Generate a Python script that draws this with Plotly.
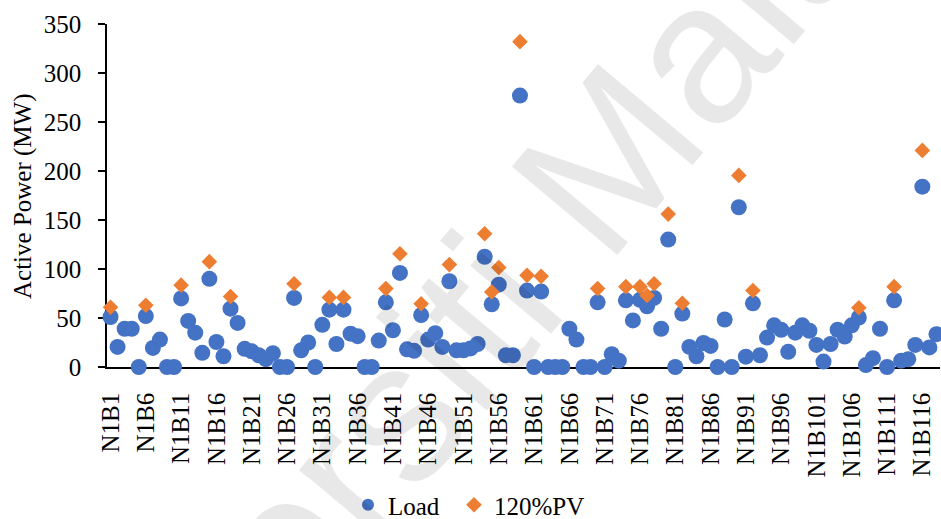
import plotly.graph_objects as go

# Bus names N1B1 ... N1B118
buses = [f"N1B{i}" for i in range(1, 119)]

# Active power of the load at each bus (MW)
load = [
    51, 20.5, 39, 39, 0, 52, 19.5, 28, 0, 0,
    70, 47, 35, 14.5, 90, 25.5, 11, 59.5, 45, 18.5,
    16, 12, 8, 14, 0, 0, 70.5, 17, 25, 0,
    43, 58.5, 23.5, 58.5, 34, 31.5, 0, 0, 27, 66,
    37.5, 96, 18, 16.5, 53, 28, 34.5, 20.5, 87.5, 17,
    17, 19, 23.5, 112.5, 64, 84, 12, 12, 277, 78,
    0, 77, 0, 0, 0, 39, 28, 0, 0, 66,
    0, 13, 6.5, 68, 47.5, 68.5, 62, 70.5, 39, 130,
    0, 54.5, 20.5, 11, 24.5, 21.5, 0, 48.5, 0, 163,
    10.5, 65, 12, 30, 42.5, 38, 15.5, 35, 42.5, 37,
    22.5, 5.5, 23.5, 38, 31, 42.5, 50.5, 2, 9, 39,
    0, 68, 6.5, 8, 22.5, 184, 20, 33.5,
]

# PV output at 120% for the buses that host PV (MW); None where no PV
pv = [None] * 118
pv_buses = [1, 6, 11, 15, 18, 27, 32, 34, 40, 42,
            45, 49, 54, 55, 56, 59, 60, 62, 70, 74,
            76, 77, 78, 80, 82, 90, 92, 107, 112, 116]
pv_values = [61, 63, 83.5, 107.5, 72, 85, 71, 71, 80, 115.5,
             64.5, 104.5, 136, 76.5, 101.5, 332, 93.5, 92.5, 80, 82,
             82, 73, 85, 156, 65, 195.5, 78, 60.5, 82, 221]
for b, v in zip(pv_buses, pv_values):
    pv[b - 1] = v

# Axis ticks
x_ticks = [f"N1B{i}" for i in range(1, 119, 5)]
y_ticks = [0, 50, 100, 150, 200, 250, 300, 350]

SERIF = "Liberation Serif, Times New Roman, serif"

fig = go.Figure()
fig.add_trace(go.Scatter(
    x=buses, y=load, mode="markers", name="Load",
    marker=dict(color="#4472C4", size=16, symbol="circle"),
    cliponaxis=False, legend="legend",
))
fig.add_trace(go.Scatter(
    x=buses, y=pv, mode="markers", name="120%PV",
    marker=dict(color="#ED7D31", size=12, symbol="diamond"),
    cliponaxis=False, legend="legend2",
))

L, R, T, B = 107, 1, 24, 152
W, H = 941, 519
pw, ph = W - L - R, H - T - B

def px_to_paper(px, py):
    return (px - L) / pw, (H - B - py) / ph

legend_style = dict(
    orientation="h", xanchor="left", yanchor="middle",
    font=dict(family=SERIF, size=25, color="black"),
    bgcolor="rgba(0,0,0,0)", itemsizing="constant",
)
l1x, l1y = px_to_paper(348, 505)
l2x, l2y = px_to_paper(454, 505)
fig.update_layout(
    width=W, height=H,
    margin=dict(l=L, r=R, t=T, b=B, autoexpand=False),
    paper_bgcolor="white", plot_bgcolor="white",
    font=dict(family=SERIF, size=25, color="black"),
    showlegend=True,
    legend=dict(x=l1x, y=l1y, **legend_style),
    legend2=dict(x=l2x, y=l2y, **legend_style),
)

fig.update_xaxes(
    type="category", range=[-0.5, 117.5], automargin=False,
    showline=True, linecolor="black", linewidth=1.5, layer="below traces",
    showgrid=False, zeroline=False, ticks="",
    tickmode="array", tickvals=x_ticks, ticktext=x_ticks,
    tickangle=-90, tickfont=dict(family=SERIF, size=25, color="black"),
    ticklabelstandoff=14,
)
fig.update_yaxes(
    range=[0, 350], tickmode="array", tickvals=y_ticks, automargin=False,
    showline=True, linecolor="black", linewidth=1.5, layer="below traces",
    showgrid=False, zeroline=False,
    ticks="outside", ticklen=7, tickcolor="black", tickwidth=1.5,
    tickfont=dict(family=SERIF, size=25, color="black"),
    ticklabelstandoff=12,
)

# Y axis title
tx, ty = px_to_paper(23, 196)
fig.add_annotation(
    text="Active Power (MW)", xref="paper", yref="paper", x=tx, y=ty,
    xanchor="center", yanchor="middle",
    textangle=-90, showarrow=False,
    font=dict(family=SERIF, size=25, color="black"),
)

# Faint diagonal watermark over the plot
wx, wy = px_to_paper(478, 312)
fig.add_annotation(
    text="Universiti Malaya", xref="paper", yref="paper", x=wx, y=wy,
    xanchor="center", yanchor="middle",
    textangle=-50, showarrow=False,
    font=dict(family="Liberation Sans, Arial, sans-serif", size=200,
              color="rgba(0,0,0,0.09)"),
)

fig.write_html("out.html")
